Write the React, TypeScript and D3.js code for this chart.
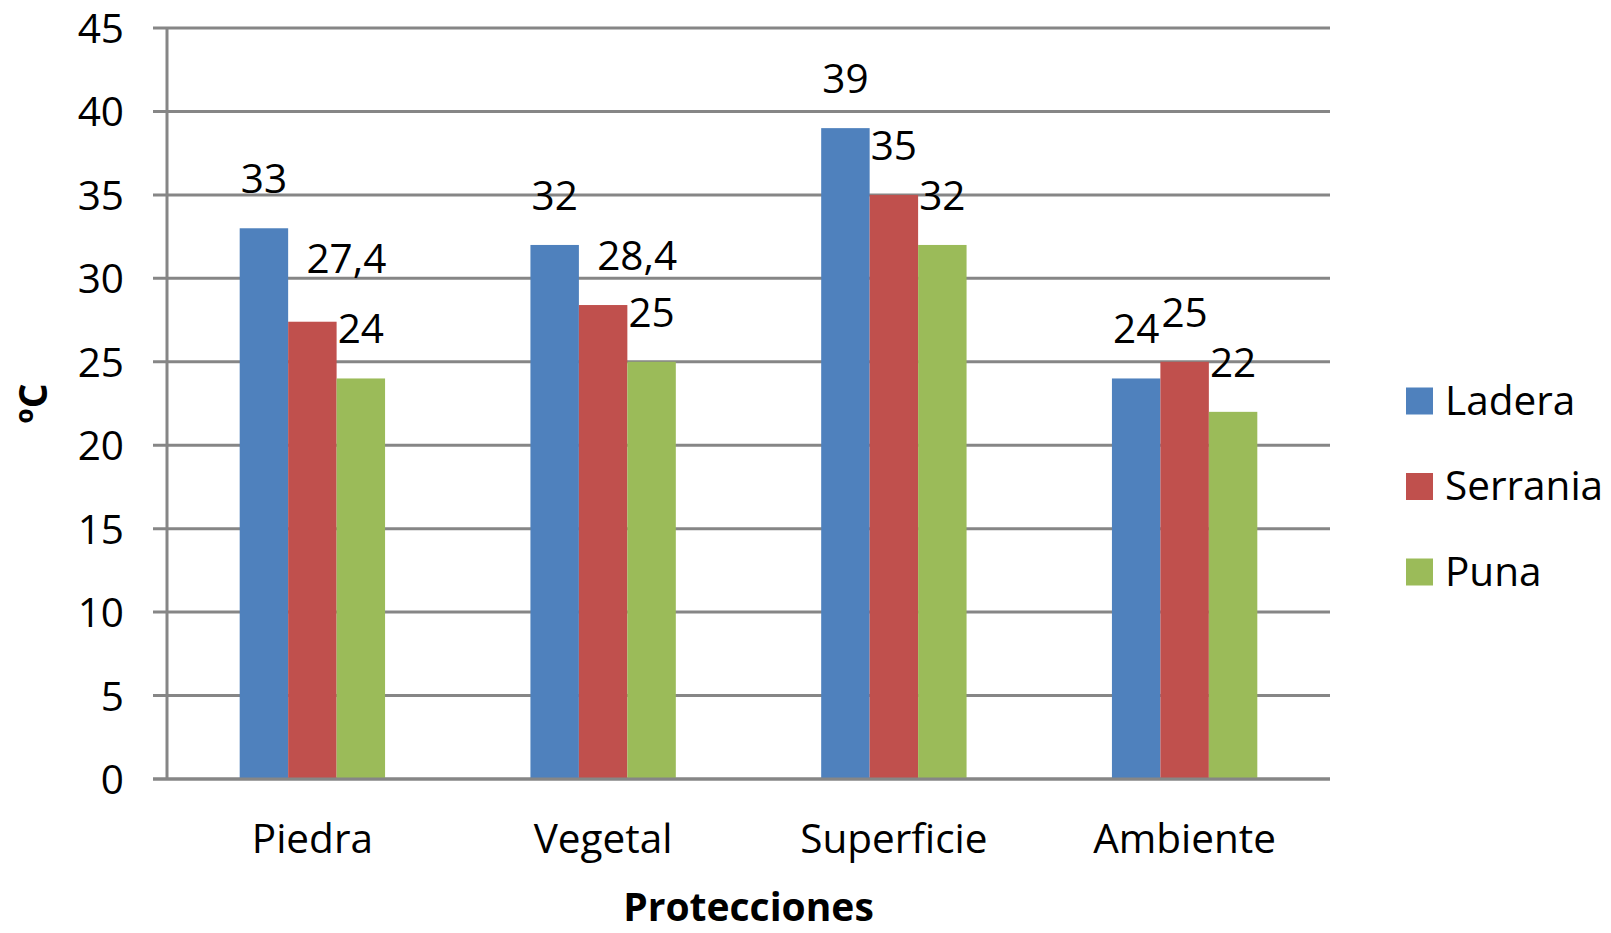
import React from "react";
import * as d3 from "d3";

// Temperature by protection type, for three zones
const categories = ["Piedra", "Vegetal", "Superficie", "Ambiente"];
const seriesNames = ["Ladera", "Serrania", "Puna"];
const ladera = [33, 32, 39, 24];
const serrania = [27.4, 28.4, 35, 25];
const puna = [24, 25, 32, 22];
const yTicks = [0, 5, 10, 15, 20, 25, 30, 35, 40, 45];

const seriesValues = [ladera, serrania, puna];
const colors = ["#4F81BD", "#C0504D", "#9BBB59"];

// Some value labels sit nudged off their default spot
const labelNudge: Record<string, { dx: number; dy: number }> = {
  "Piedra|Serrania": { dx: 34, dy: -14 },
  "Vegetal|Serrania": { dx: 34, dy: 0 },
};

const W = 1611;
const H = 933;
const plot = { left: 167, right: 1330, top: 28, bottom: 779 };
const FONT = "'Open Sans', Calibri, sans-serif";
const FS = 40.5;
const GRID = "#868686";

const fmt = (v: number) => String(v).replace(".", ",");

export default function App() {
  const x0 = d3
    .scaleBand<string>()
    .domain(categories)
    .range([plot.left, plot.right])
    .paddingInner(0.5)
    .paddingOuter(0.25);
  const x1 = d3
    .scaleBand<string>()
    .domain(seriesNames)
    .range([0, x0.bandwidth()])
    .padding(0);
  const y = d3.scaleLinear().domain([0, 45]).range([plot.bottom, plot.top]);

  const legendY = d3
    .scalePoint<string>()
    .domain(seriesNames)
    .range([401, 572]);

  return (
    <svg
      width={W}
      height={H}
      viewBox={`0 0 ${W} ${H}`}
      style={{ position: "absolute", left: 0, top: 0, background: "#fff" }}
      fontFamily={FONT}
    >
      {/* gridlines and tick labels */}
      {yTicks.map((t) => (
        <g key={t}>
          <line
            x1={plot.left - 14}
            x2={plot.right}
            y1={y(t)}
            y2={y(t)}
            stroke={GRID}
            strokeWidth={3}
          />
          <text
            x={124}
            y={y(t) + 15}
            textAnchor="end"
            fontSize={FS}
            fill="#000"
          >
            {t}
          </text>
        </g>
      ))}
      <line
        x1={plot.left}
        x2={plot.left}
        y1={plot.top}
        y2={plot.bottom}
        stroke={GRID}
        strokeWidth={3}
      />

      {/* bars */}
      {categories.map((c, ci) => (
        <g key={c} transform={`translate(${x0(c)},0)`}>
          {seriesNames.map((s, si) => {
            const v = seriesValues[si][ci];
            return (
              <rect
                key={s}
                x={x1(s)}
                y={y(v)}
                width={x1.bandwidth()}
                height={y(0) - y(v)}
                fill={colors[si]}
              />
            );
          })}
        </g>
      ))}

      {/* redraw the baseline over the bar bottoms */}
      <line
        x1={plot.left - 14}
        x2={plot.right}
        y1={y(0)}
        y2={y(0)}
        stroke={GRID}
        strokeWidth={3}
      />

      {/* value labels */}
      {categories.map((c, ci) =>
        seriesNames.map((s, si) => {
          const v = seriesValues[si][ci];
          const n = labelNudge[`${c}|${s}`] || { dx: 0, dy: 0 };
          const cx = (x0(c) as number) + (x1(s) as number) + x1.bandwidth() / 2;
          return (
            <text
              key={`${c}-${s}`}
              x={cx + n.dx}
              y={y(v) - 35 + n.dy}
              textAnchor="middle"
              fontSize={FS}
              fill="#000"
            >
              {fmt(v)}
            </text>
          );
        })
      )}

      {/* category labels */}
      {categories.map((c) => (
        <text
          key={c}
          x={(x0(c) as number) + x0.bandwidth() / 2}
          y={853}
          textAnchor="middle"
          fontSize={FS}
          fill="#000"
        >
          {c}
        </text>
      ))}

      {/* axis titles */}
      <text
        x={(plot.left + plot.right) / 2}
        y={921}
        textAnchor="middle"
        fontSize={39}
        fontWeight="bold"
        fill="#000"
      >
        Protecciones
      </text>
      <text
        transform={`translate(47,${(plot.top + plot.bottom) / 2}) rotate(-90)`}
        textAnchor="middle"
        fontSize={39}
        fontWeight="bold"
        fill="#000"
      >
        ºC
      </text>

      {/* legend */}
      {seriesNames.map((s, si) => {
        const cy = legendY(s) as number;
        return (
          <g key={s}>
            <rect x={1406} y={cy - 13.5} width={27} height={27} fill={colors[si]} />
            <text x={1445} y={cy + 13.5} fontSize={FS} fill="#000">
              {s}
            </text>
          </g>
        );
      })}
    </svg>
  );
}
